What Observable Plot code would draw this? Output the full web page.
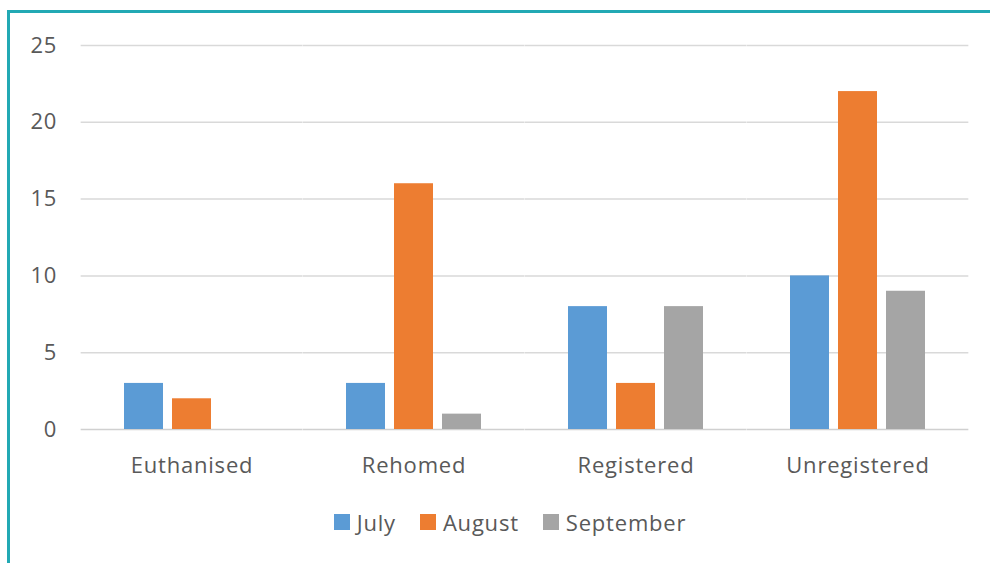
<!DOCTYPE html>
<html>
<head>
<meta charset="utf-8">
<script src="https://cdn.jsdelivr.net/npm/d3@7"></script>
<script src="https://cdn.jsdelivr.net/npm/@observablehq/plot@0.6"></script>
<style>
  html, body { margin: 0; padding: 0; background: #fff; }
  body { width: 990px; height: 563px; position: relative; overflow: hidden; font-family: "Open Sans", sans-serif; }
  #frame { position: absolute; left: 7px; top: 10px; width: 990px; height: 560px; border-left: 3px solid #22a9b4; border-top: 3px solid #22a9b4; box-sizing: border-box; }
  #chart { position: absolute; left: 0; top: 0; }
  #legend { position: absolute; top: 507px; left: 0; width: 1020px; display: flex; justify-content: center; gap: 24px; font-size: 22px; letter-spacing: 0.8px; color: #595959; }
  .item { display: flex; align-items: center; gap: 7px; }
  .sw { width: 16px; height: 16px; display: inline-block; }
</style>
</head>
<body>
<div id="frame"></div>
<div id="chart"></div>
<div id="legend"></div>
<script>
const categories = ["Euthanised", "Rehomed", "Registered", "Unregistered"];
const series = ["July", "August", "September"];
const colors = ["#5b9bd5", "#ed7d31", "#a5a5a5"];
const july = [3, 3, 8, 10];
const august = [2, 16, 3, 22];
const september = [0, 1, 8, 9];
const yTicks = [0, 5, 10, 15, 20, 25];

const valuesBySeries = [july, august, september];
const data = [];
categories.forEach((c, i) => {
  series.forEach((s, j) => data.push({category: c, series: s, value: valuesBySeries[j][i]}));
});

const W = 990, ML = 80, MR = 21;
const padInner = 0.39, padOuter = padInner / 2;
const step = (W - ML - MR) / categories.length;
const ext = padOuter * step; // half gap between facet groups

const plot = Plot.plot({
  width: W,
  height: 490,
  marginTop: 45,
  marginBottom: 61,
  marginLeft: ML,
  marginRight: MR,
  style: {fontSize: "22px", fontFamily: "'Open Sans', sans-serif", color: "#595959", background: "transparent", letterSpacing: "0.8px"},
  fx: {domain: categories, paddingInner: padInner, paddingOuter: padOuter, label: null, axis: "bottom", tickSize: 0, tickPadding: 28},
  x: {domain: series, paddingInner: 0.1875, paddingOuter: 0, axis: null},
  y: {domain: [0, 25], ticks: yTicks, label: null, tickSize: 0, tickPadding: 24 + ext},
  color: {domain: series, range: colors},
  marks: [
    Plot.ruleY(yTicks.filter(d => d > 0), {stroke: "#d9d9d9", strokeWidth: 1.5, insetLeft: -ext, insetRight: -ext}),
    Plot.ruleY([0], {stroke: "#d0d0d0", strokeWidth: 1.5, insetLeft: -ext, insetRight: -ext}),
    Plot.barY(data, {fx: "category", x: "series", y: "value", fill: "series"})
  ]
});
document.getElementById("chart").appendChild(plot);

const legend = document.getElementById("legend");
series.forEach((s, i) => {
  const item = document.createElement("div");
  item.className = "item";
  const sw = document.createElement("span");
  sw.className = "sw";
  sw.style.background = colors[i];
  const t = document.createElement("span");
  t.textContent = s;
  item.appendChild(sw);
  item.appendChild(t);
  legend.appendChild(item);
});
</script>
</body>
</html>
